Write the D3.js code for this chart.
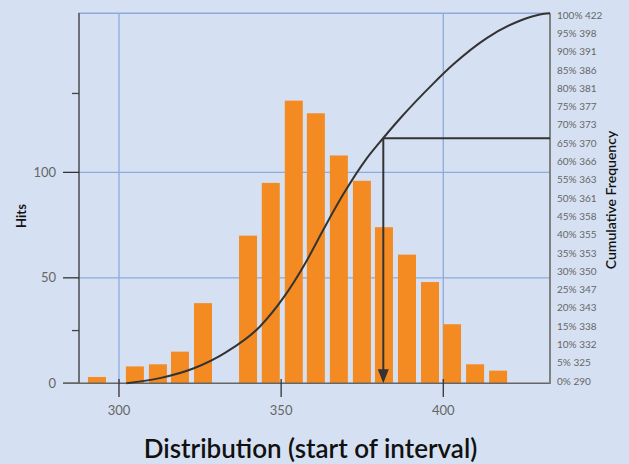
<!DOCTYPE html>
<html>
<head>
<meta charset="utf-8">
<script src="https://cdn.jsdelivr.net/npm/d3@7"></script>
<style>
  html, body { margin: 0; padding: 0; background: #d5e1f2; }
  svg { display: block; font-family: Lato, "Open Sans", sans-serif; }
</style>
</head>
<body>
<svg id="chart" width="629" height="464"></svg>
<script>
// ---- data ----
const binCenters = [293.2, 304.9, 312.0, 318.8, 325.9, 339.8, 346.8, 353.9, 360.7, 367.8, 374.9, 381.7, 388.8, 395.9, 402.7, 409.8, 416.9];
const hits       = [3, 8, 9, 15, 38, 70, 95, 134, 128, 108, 96, 74, 61, 48, 28, 9, 6];

const cumValues   = [302.3, 312.6, 322.9, 333.2, 343.4, 350.6, 357.8, 363.0, 369.1, 376.4, 381.5, 386.6, 396.9, 403.1, 413.4, 423.6, 429.8, 432.9];
const cumPercents = [0, 1.4, 4.0, 8.5, 15.3, 23.0, 33.0, 41.5, 51.0, 60.8, 66.3, 71.5, 81.0, 86.2, 93.3, 98.0, 99.7, 100];

const xTicks = [300, 350, 400];
const xGrid = [300, 400];
const yTicks = [0, 50, 100];
const yMinorTicks = [25, 137.4];
const yGrid = [50, 100];

const pctLabels   = [0, 5, 10, 15, 20, 25, 30, 35, 40, 45, 50, 55, 60, 65, 70, 75, 80, 85, 90, 95, 100];
const pctValues   = [290, 325, 332, 338, 343, 347, 350, 353, 355, 358, 361, 363, 366, 370, 373, 377, 381, 386, 391, 398, 422];

const markerValue = 381.5;
const markerPercent = 66.2;

// ---- layout ----
const svg = d3.select("#chart");
const L = 79, R = 550, T = 13.3, B = 383.3;
const barW = 5.55;

const x = d3.scaleLinear().domain([287.67, 432.9]).range([L, R]);
const y = d3.scaleLinear().domain([0, 175.4]).range([B, T]);
const yP = d3.scaleLinear().domain([0, 100]).range([B, T]);
const yLab = d3.scaleLinear().domain([0, 100]).range([381, 15]);

svg.append("rect").attr("width", 629).attr("height", 464).attr("fill", "#d5e1f2");

const gridColor = "#8ea9dc";
// grid
svg.append("g").selectAll("line").data(xGrid).join("line")
  .attr("x1", d => x(d)).attr("x2", d => x(d)).attr("y1", T).attr("y2", B)
  .attr("stroke", gridColor).attr("stroke-width", 1.3);
svg.append("g").selectAll("line").data(yGrid).join("line")
  .attr("x1", L).attr("x2", R).attr("y1", d => y(d)).attr("y2", d => y(d))
  .attr("stroke", gridColor).attr("stroke-width", 1.3);
// top border
svg.append("line").attr("x1", L - 1).attr("x2", R).attr("y1", T).attr("y2", T)
  .attr("stroke", gridColor).attr("stroke-width", 1.5);

// bars
svg.append("g").selectAll("rect").data(binCenters).join("rect")
  .attr("x", d => x(d - barW / 2))
  .attr("width", d => x(d + barW / 2) - x(d - barW / 2))
  .attr("y", (d, i) => y(hits[i]))
  .attr("height", (d, i) => y(0) - y(hits[i]))
  .attr("fill", "#f38a22");

// left axis
svg.append("line").attr("x1", L).attr("x2", L).attr("y1", T).attr("y2", B)
  .attr("stroke", "#333").attr("stroke-width", 1.3);
svg.append("g").selectAll("line").data(yTicks).join("line")
  .attr("x1", 63).attr("x2", L).attr("y1", d => y(d)).attr("y2", d => y(d))
  .attr("stroke", "#333").attr("stroke-width", 1.3);
svg.append("g").selectAll("line").data(yMinorTicks).join("line")
  .attr("x1", 72).attr("x2", L).attr("y1", d => y(d)).attr("y2", d => y(d))
  .attr("stroke", "#444").attr("stroke-width", 1.3);
svg.append("g").selectAll("text").data(yTicks).join("text")
  .attr("x", 56).attr("y", d => y(d) + 4.6)
  .attr("text-anchor", "end").attr("font-size", 13).attr("fill", "#666")
  .text(d => d);

// bottom axis
svg.append("line").attr("x1", 63).attr("x2", R).attr("y1", B).attr("y2", B)
  .attr("stroke", "#666").attr("stroke-width", 1.6);
svg.append("g").selectAll("line").data(xTicks).join("line")
  .attr("x1", d => x(d)).attr("x2", d => x(d)).attr("y1", 379).attr("y2", 397)
  .attr("stroke", "#333").attr("stroke-width", 1.3);
svg.append("g").selectAll("text").data(xTicks).join("text")
  .attr("x", d => x(d)).attr("y", 415)
  .attr("text-anchor", "middle").attr("font-size", 13).attr("fill", "#666")
  .text(d => d);

// right axis
svg.append("line").attr("x1", R).attr("x2", R).attr("y1", T).attr("y2", B + 0.8)
  .attr("stroke", "#777").attr("stroke-width", 1.8);
svg.append("g").selectAll("text").data(pctLabels).join("text")
  .attr("x", 557).attr("y", d => yLab(d) + 3.6)
  .attr("font-size", 10).attr("fill", "#666")
  .text((d, i) => d + "% " + pctValues[i]);

// cumulative curve
const line = d3.line().x(d => x(d[0])).y(d => yP(d[1])).curve(d3.curveMonotoneX);
svg.append("path").datum(cumValues.map((v, i) => [v, cumPercents[i]]))
  .attr("d", line).attr("fill", "none").attr("stroke", "#333").attr("stroke-width", 2);

// marker lines
const mx = x(markerValue), my = yP(markerPercent);
svg.append("line").attr("x1", mx).attr("x2", R).attr("y1", my).attr("y2", my)
  .attr("stroke", "#333").attr("stroke-width", 2);
svg.append("line").attr("x1", mx).attr("x2", mx).attr("y1", my).attr("y2", B - 12)
  .attr("stroke", "#333").attr("stroke-width", 2);
svg.append("path")
  .attr("d", `M${mx - 5.5},${B - 14} L${mx + 5.5},${B - 14} L${mx},${B} Z`)
  .attr("fill", "#333");

// axis titles
svg.append("text").attr("transform", "translate(26,216) rotate(-90)")
  .attr("text-anchor", "middle").attr("font-size", 13).attr("font-weight", 700).attr("fill", "#111")
  .text("Hits");
svg.append("text").attr("transform", "translate(616,200) rotate(-90)")
  .attr("text-anchor", "middle").attr("font-size", 14).attr("font-weight", 600).attr("fill", "#111")
  .text("Cumulative Frequency");
svg.append("text").attr("x", 310.5).attr("y", 458)
  .attr("text-anchor", "middle").attr("font-size", 26).attr("font-weight", 600).attr("fill", "#111")
  .text("Distribution (start of interval)");
</script>
</body>
</html>
